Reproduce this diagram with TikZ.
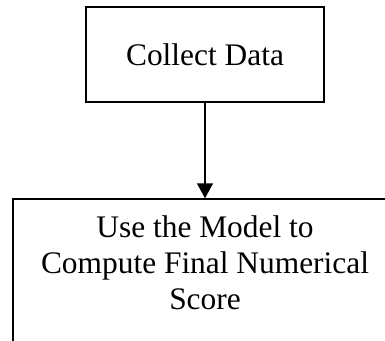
\documentclass[tikz,border=0pt]{standalone}
\usepackage{fontspec}
\setmainfont{Liberation Serif}
\usetikzlibrary{arrows.meta, positioning}

\begin{document}
\begin{tikzpicture}[x=1pt, y=-1pt,
    stage/.style={draw, rectangle, line width=1.4pt, align=center, inner sep=0pt,
      font=\fontsize{31.4}{36}\selectfont},
    flow/.style={line width=1.4pt, -{Triangle[length=15pt, width=16pt]}}]
    % Page frame
    \clip (0,0) rectangle (385,340);

    % Process boxes
    \node[stage, minimum width=238pt, minimum height=95pt] (collect) at (205,54.5) {Collect Data};
    \node[stage, minimum width=384pt, minimum height=143pt, text depth=16pt] (model) at (205,270.5) {Use the Model to\\Compute Final Numerical\\Score};

    % Flow between them
    \draw[flow] (collect) -- (model);
\end{tikzpicture}
\end{document}
